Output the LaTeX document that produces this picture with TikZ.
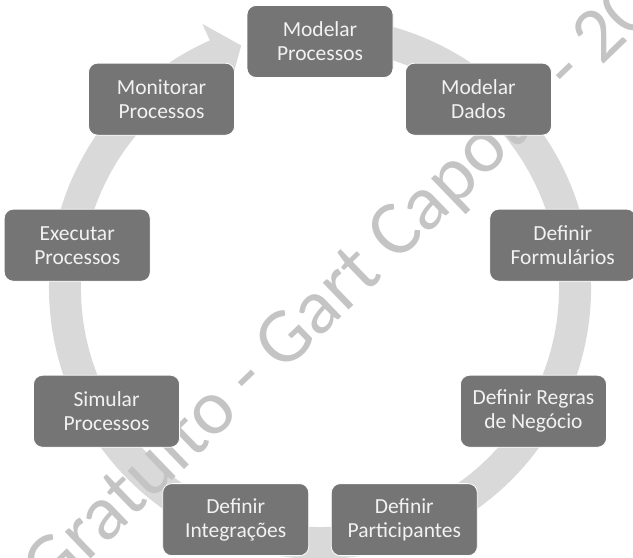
\documentclass[tikz,border=0pt]{standalone}
\usepackage{fontspec}
\setmainfont{Carlito}
\usetikzlibrary{calc}
\definecolor{ringgray}{HTML}{D9D9D9}
\definecolor{boxgray}{HTML}{757575}
\definecolor{boxtext}{HTML}{F2F2F2}
\definecolor{wmgray}{HTML}{C4C4C4}
\begin{document}
\begin{tikzpicture}[x=1bp,y=1bp,
  stepbox/.style={draw=white, line width=0.8bp, fill=boxgray, rounded corners=9bp,
    minimum width=146bp, minimum height=72bp, inner sep=0pt, align=center,
    text=boxtext, font=\fontsize{21.5bp}{24bp}\selectfont},
  ringshape/.style={fill=ringgray, draw=none},
  watermark/.style={text=wmgray, font=\fontsize{78bp}{80bp}\selectfont,
    rotate=44, anchor=base, inner sep=0pt}]
\useasboundingbox (0,0) rectangle (633,558);
\clip (0,0) rectangle (633,558);
\coordinate (c) at (320,270);
% circular arrow
\fill[ringshape] ($(c)+(100:271)$) arc[start angle=100, end angle=-246, radius=271]
  -- ($(c)+(-246:289)$) -- ($(c)+(-252:255)$) -- ($(c)+(-246:221)$)
  -- ($(c)+(-246:239)$) arc[start angle=-246, end angle=100, radius=239] -- cycle;
% watermark
\node[watermark] (wm) at (354.9,253.7) {Gratuito - Gart Capote - 20};
% steps
\node[stepbox] (n1) at ($(c)+(90:246.5)$)  {Modelar\\Processos};
\node[stepbox] (n2) at ($(c)+(50:246.5)$)  {Modelar\\Dados};
\node[stepbox] (n3) at ($(c)+(10:246.5)$)  {Definir\\Formulários};
\node[stepbox] (n4) at ($(c)+(-30:246.5)$) {Definir Regras\\de Negócio};
\node[stepbox] (n5) at ($(c)+(-70:246.5)$) {Definir\\Participantes};
\node[stepbox] (n6) at ($(c)+(-110:246.5)$) {Definir\\Integrações};
\node[stepbox] (n7) at ($(c)+(-150:246.5)$) {Simular\\Processos};
\node[stepbox] (n8) at ($(c)+(170:246.5)$) {Executar\\Processos};
\node[stepbox] (n9) at ($(c)+(130:246.5)$) {Monitorar\\Processos};
\end{tikzpicture}
\end{document}
